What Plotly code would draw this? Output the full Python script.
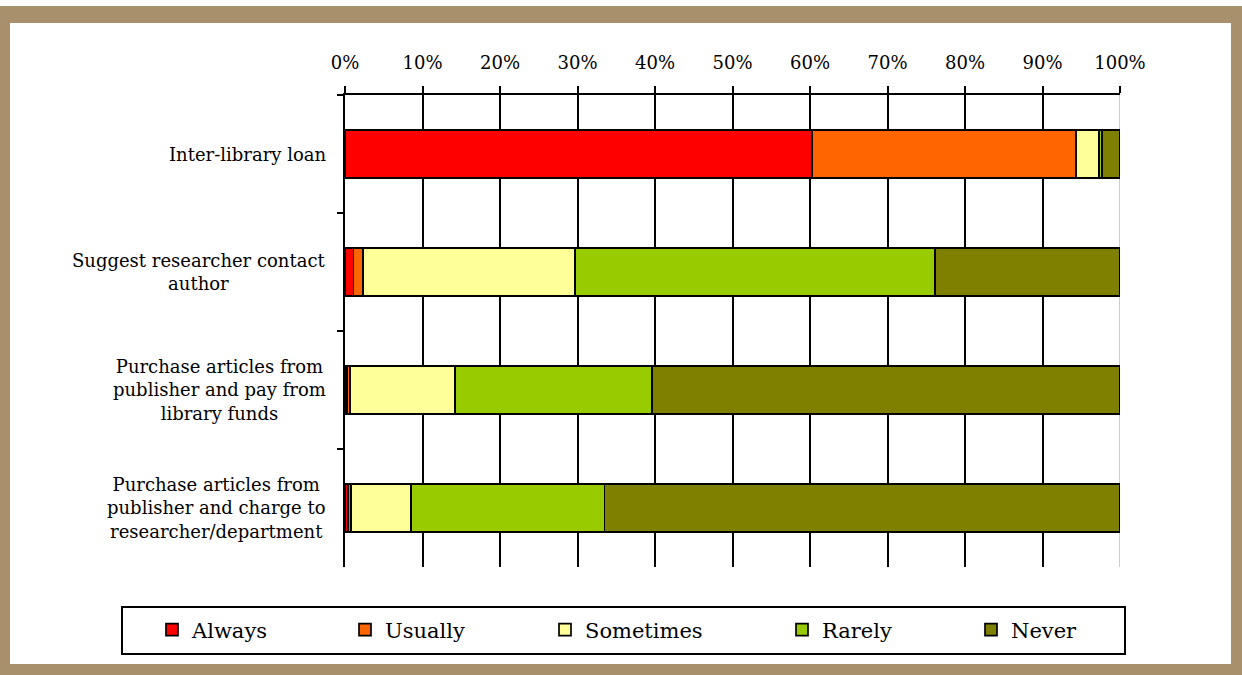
import plotly.graph_objects as go

categories = ["Inter-library loan", "Suggest researcher contact author",
              "Purchase articles from publisher and pay from library funds",
              "Purchase articles from publisher and charge to researcher/department"]
category_labels = ["Inter-library loan", "Suggest researcher contact<br>author",
                   "Purchase articles from<br>publisher and pay from<br>library funds",
                   "Purchase articles from<br>publisher and charge to<br>researcher/department"]

series_names = ["Always", "Usually", "Sometimes", "Rarely", "Never"]
always = [60.3, 1.1, 0.3, 0.4]
usually = [34.0, 1.2, 0.3, 0.4]
sometimes = [3.0, 27.4, 13.6, 7.7]
rarely = [0.4, 46.4, 25.4, 25.0]
never = [2.3, 23.9, 60.4, 66.5]
series_values = [always, usually, sometimes, rarely, never]
series_colors = ["#FF0000", "#FF6600", "#FFFF99", "#99CC00", "#808000"]

tick_values = [0, 10, 20, 30, 40, 50, 60, 70, 80, 90, 100]
tick_labels = ["0%", "10%", "20%", "30%", "40%", "50%", "60%", "70%", "80%", "90%", "100%"]

FONT = "DejaVu Serif"

# pixel geometry of the plot area
L, R, T, B = 345, 1120, 95, 567
W, H = R - L, B - T


def px(x):
    return (x - L) / W


def py(y):
    return (B - y) / H


legend_x_px = [152, 345, 545, 782, 971]
legend_names = ["legend", "legend2", "legend3", "legend4", "legend5"]

fig = go.Figure()
for name, vals, col, lg in zip(series_names, series_values, series_colors, legend_names):
    fig.add_trace(go.Bar(
        y=categories, x=vals, name=name, orientation="h",
        marker=dict(color=col, line=dict(color="black", width=1.7)),
        legend=lg, hoverinfo="x+name",
    ))

shapes = [
    dict(type="rect", xref="paper", yref="paper", x0=px(0), x1=px(1242), y0=py(675), y1=py(6),
         fillcolor="#A8906C", line=dict(width=0), layer="below"),
    dict(type="rect", xref="paper", yref="paper", x0=px(10), x1=px(1231), y0=py(664), y1=py(23),
         fillcolor="white", line=dict(width=0), layer="below"),
    dict(type="line", xref="x", yref="paper", x0=100, x1=100, y0=0, y1=1,
         line=dict(color="#C0C0C0", width=1.6), layer="between"),
    dict(type="rect", xref="paper", yref="paper", x0=px(122), x1=px(1125), y0=py(654), y1=py(607),
         line=dict(color="black", width=2), fillcolor="rgba(0,0,0,0)", layer="above"),
]

annotations = [
    dict(x=0, xref="paper", xshift=-17, y=cat, yref="y", text=lab, showarrow=False,
         xanchor="right", yanchor="middle", align="center",
         font=dict(family=FONT, size=18, color="black"))
    for cat, lab in zip(categories, category_labels)
]

layout_legends = {}
for lg, lx in zip(legend_names, legend_x_px):
    layout_legends[lg] = dict(
        x=px(lx), y=py(630), xanchor="left", yanchor="middle", orientation="h",
        bgcolor="rgba(0,0,0,0)", borderwidth=0,
        font=dict(family=FONT, size=21, color="black"),
    )

fig.update_layout(
    width=1242, height=675,
    margin=dict(l=L, r=1242 - R, t=T, b=675 - B, pad=0),
    paper_bgcolor="white", plot_bgcolor="white",
    barmode="stack", bargap=0.59,
    font=dict(family=FONT, color="black"),
    shapes=shapes, annotations=annotations,
    showlegend=True,
    **layout_legends,
)

fig.update_xaxes(
    side="top", range=[0, 100], tickmode="array", tickvals=tick_values, ticktext=tick_labels,
    showgrid=True, gridcolor="black", gridwidth=1.6,
    showline=True, linecolor="black", linewidth=1.8,
    ticks="outside", ticklen=7, tickwidth=1.8, tickcolor="black",
    ticklabelstandoff=10,
    tickfont=dict(family=FONT, size=18, color="black"),
    zeroline=False, fixedrange=True,
)
fig.update_yaxes(
    type="category", categoryorder="array", categoryarray=categories,
    autorange="reversed", showticklabels=False,
    showline=True, linecolor="black", linewidth=1.8,
    ticks="outside", ticklen=6, tickwidth=1.8, tickcolor="black", tickson="boundaries",
    showgrid=False, zeroline=False, fixedrange=True,
)

fig.write_html("out.html", config={"displayModeBar": False},
               post_script="document.body.style.margin='0';document.body.style.padding='0';")
